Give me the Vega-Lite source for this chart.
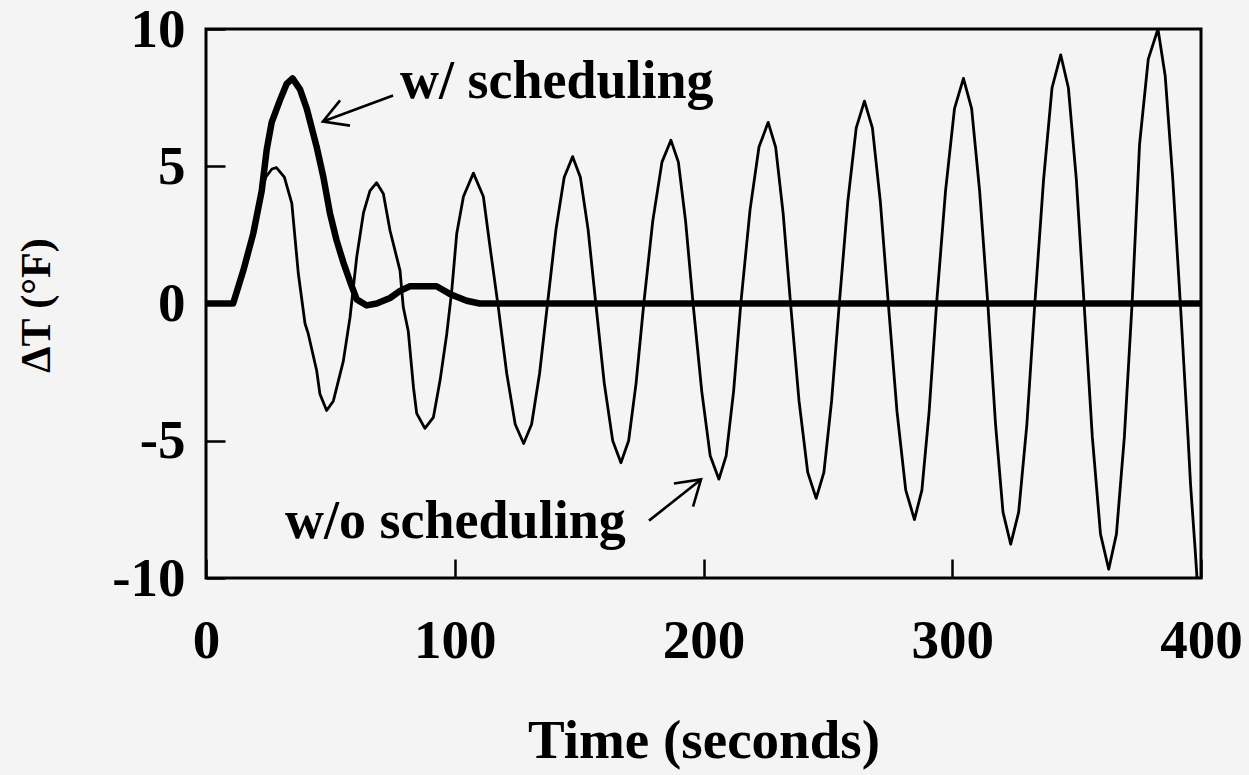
{
  "$schema": "https://vega.github.io/schema/vega-lite/v6.json",
  "width": 995,
  "height": 549,
  "autosize": "none",
  "padding": {"left": 206, "top": 29, "right": 48, "bottom": 197},
  "background": "#f4f4f4",
  "config": {
    "view": {"stroke": "black", "strokeWidth": 3},
    "font": "Liberation Serif"
  },
  "datasets": {
    "without": [
      {"t": 0, "v": 0}, {"t": 10.9, "v": 0}, {"t": 15, "v": 1.2}, {"t": 19, "v": 2.55}, {"t": 21.7, "v": 3.9},
      {"t": 24, "v": 4.6}, {"t": 26.5, "v": 4.9}, {"t": 28.3, "v": 4.95}, {"t": 31.5, "v": 4.6}, {"t": 34.5, "v": 3.65},
      {"t": 37.1, "v": 1.1}, {"t": 39.8, "v": -0.73}, {"t": 41.1, "v": -1.1}, {"t": 44.5, "v": -2.45}, {"t": 45.8, "v": -3.3},
      {"t": 48.5, "v": -3.9}, {"t": 51.2, "v": -3.55}, {"t": 55.2, "v": -2.1}, {"t": 57.9, "v": -0.5}, {"t": 60.6, "v": 1.7},
      {"t": 63.3, "v": 3.3}, {"t": 65.9, "v": 4.1}, {"t": 68.6, "v": 4.4}, {"t": 71.3, "v": 4.0}, {"t": 74, "v": 2.65},
      {"t": 78, "v": 1.2}, {"t": 79.3, "v": -0.13}, {"t": 81.3, "v": -1.0}, {"t": 83.4, "v": -3.05}, {"t": 84.7, "v": -4.0},
      {"t": 88, "v": -4.55}, {"t": 91.4, "v": -4.15}, {"t": 94.1, "v": -2.8}, {"t": 96.8, "v": -1.1}, {"t": 98.8, "v": 0.47},
      {"t": 100.8, "v": 2.55}, {"t": 103.5, "v": 3.9}, {"t": 107.5, "v": 4.75}, {"t": 111.5, "v": 3.9}, {"t": 114.2, "v": 2.05},
      {"t": 117.5, "v": -0.13}, {"t": 120.9, "v": -2.55}, {"t": 124.3, "v": -4.4}, {"t": 127.7, "v": -5.1}, {"t": 130.9, "v": -4.4},
      {"t": 134.1, "v": -2.55}, {"t": 137.3, "v": 0}, {"t": 140.7, "v": 2.7}, {"t": 144.0, "v": 4.6}, {"t": 147.4, "v": 5.35},
      {"t": 150.5, "v": 4.6}, {"t": 153.6, "v": 2.7}, {"t": 156.7, "v": 0}, {"t": 160.1, "v": -2.9}, {"t": 163.5, "v": -5.0},
      {"t": 166.8, "v": -5.8}, {"t": 169.9, "v": -5.0}, {"t": 172.9, "v": -2.9}, {"t": 176, "v": 0}, {"t": 179.6, "v": 3.0},
      {"t": 183.3, "v": 5.15}, {"t": 186.9, "v": 5.95}, {"t": 189.9, "v": 5.15}, {"t": 192.8, "v": 3.0}, {"t": 195.8, "v": 0},
      {"t": 199.3, "v": -3.2}, {"t": 202.7, "v": -5.55}, {"t": 206.2, "v": -6.4}, {"t": 209.1, "v": -5.55}, {"t": 212.1, "v": -3.2},
      {"t": 215, "v": 0}, {"t": 218.7, "v": 3.4}, {"t": 222.3, "v": 5.7}, {"t": 226, "v": 6.6}, {"t": 229, "v": 5.7},
      {"t": 232, "v": 3.3}, {"t": 235, "v": 0}, {"t": 238.4, "v": -3.55}, {"t": 241.9, "v": -6.15}, {"t": 245.3, "v": -7.1},
      {"t": 248.4, "v": -6.15}, {"t": 251.5, "v": -3.55}, {"t": 254.6, "v": 0}, {"t": 258, "v": 3.7}, {"t": 261.4, "v": 6.4},
      {"t": 264.7, "v": 7.37}, {"t": 267.9, "v": 6.4}, {"t": 271.1, "v": 3.7}, {"t": 274.3, "v": 0}, {"t": 277.8, "v": -3.95},
      {"t": 281.3, "v": -6.8}, {"t": 284.8, "v": -7.87}, {"t": 287.8, "v": -6.8}, {"t": 290.7, "v": -3.95}, {"t": 293.7, "v": 0},
      {"t": 297.3, "v": 4.1}, {"t": 300.9, "v": 7.1}, {"t": 304.5, "v": 8.2}, {"t": 307.8, "v": 7.1}, {"t": 311, "v": 4.1},
      {"t": 314.3, "v": 0}, {"t": 317.4, "v": -4.4}, {"t": 320.4, "v": -7.6}, {"t": 323.5, "v": -8.77}, {"t": 326.7, "v": -7.6},
      {"t": 330, "v": -4.4}, {"t": 333.2, "v": 0}, {"t": 336.7, "v": 4.5}, {"t": 340.1, "v": 7.85}, {"t": 343.6, "v": 9.06},
      {"t": 346.7, "v": 7.85}, {"t": 349.9, "v": 4.5}, {"t": 353, "v": 0}, {"t": 356.3, "v": -4.85}, {"t": 359.6, "v": -8.4},
      {"t": 362.9, "v": -9.68}, {"t": 366, "v": -8.4}, {"t": 369.2, "v": -4.85}, {"t": 372.3, "v": 0}, {"t": 375.3, "v": 5.8},
      {"t": 378.8, "v": 8.9}, {"t": 382.7, "v": 10}, {"t": 385.6, "v": 8.3}, {"t": 388.6, "v": 4.6}, {"t": 391.7, "v": 0},
      {"t": 394.8, "v": -4.9}, {"t": 395.8, "v": -6.6}, {"t": 397.6, "v": -8.9}, {"t": 398.4, "v": -10}
    ],
    "with": [
      {"t": 0, "v": 0}, {"t": 10.9, "v": 0}, {"t": 15, "v": 1.2}, {"t": 19, "v": 2.55}, {"t": 22.4, "v": 4.1},
      {"t": 24.4, "v": 5.6}, {"t": 26.4, "v": 6.6}, {"t": 29.7, "v": 7.4}, {"t": 32.4, "v": 8.0}, {"t": 34.8, "v": 8.2},
      {"t": 37.8, "v": 7.8}, {"t": 40.5, "v": 7.1}, {"t": 44.5, "v": 5.7}, {"t": 47.2, "v": 4.6}, {"t": 49.8, "v": 3.3},
      {"t": 52.5, "v": 2.3}, {"t": 55.2, "v": 1.5}, {"t": 57.9, "v": 0.8}, {"t": 60.6, "v": 0.15}, {"t": 64.6, "v": -0.07},
      {"t": 68.6, "v": 0}, {"t": 74, "v": 0.2}, {"t": 78, "v": 0.46}, {"t": 82, "v": 0.63}, {"t": 92.7, "v": 0.63},
      {"t": 98, "v": 0.35}, {"t": 104.8, "v": 0.1}, {"t": 110, "v": 0}, {"t": 400, "v": 0}
    ],
    "arrows": [
      {"seg": "a1", "o": 1, "t": 75.2, "v": 7.58}, {"seg": "a1", "o": 2, "t": 47.0, "v": 6.63},
      {"seg": "a1h", "o": 1, "t": 53.9, "v": 7.40}, {"seg": "a1h", "o": 2, "t": 47.0, "v": 6.63}, {"seg": "a1h", "o": 3, "t": 57.9, "v": 6.48},
      {"seg": "a2", "o": 1, "t": 178.1, "v": -7.91}, {"seg": "a2", "o": 2, "t": 199.0, "v": -6.41},
      {"seg": "a2h", "o": 1, "t": 188.1, "v": -6.56}, {"seg": "a2h", "o": 2, "t": 199.0, "v": -6.41}, {"seg": "a2h", "o": 3, "t": 195.8, "v": -7.40}
    ],
    "labels": [
      {"t": 78, "v": 7.5, "label": "w/ scheduling"},
      {"t": 31.8, "v": -8.56, "label": "w/o scheduling"}
    ]
  },
  "encoding": {
    "x": {
      "field": "t", "type": "quantitative",
      "scale": {"domain": [0, 400], "nice": false, "zero": false},
      "axis": {
        "values": [0, 100, 200, 300, 400],
        "tickSize": -19, "tickColor": "black", "tickWidth": 2.5,
        "domain": false, "grid": false,
        "labelFont": "Liberation Serif", "labelFontSize": 55, "labelFontWeight": "bold", "labelColor": "black",
        "labelPadding": 55, "labelFlush": false,
        "title": "Time (seconds)",
        "titleFont": "Liberation Serif", "titleFontSize": 55, "titleFontWeight": "bold", "titleColor": "black",
        "titleY": 162, "titleBaseline": "middle"
      }
    },
    "y": {
      "field": "v", "type": "quantitative",
      "scale": {"domain": [-10, 10], "nice": false, "zero": false},
      "axis": {
        "values": [-10, -5, 0, 5, 10],
        "tickSize": -19, "tickColor": "black", "tickWidth": 2.5,
        "domain": false, "grid": false,
        "labelExpr": "replace(datum.label, '\u2212', '-')",
        "labelFont": "Liberation Serif", "labelFontSize": 55, "labelFontWeight": "bold", "labelColor": "black",
        "labelPadding": 40, "labelFlush": false,
        "title": "ΔT (°F)",
        "titleFont": "Liberation Serif", "titleFontSize": 42, "titleFontWeight": "bold", "titleColor": "black",
        "titleX": -170, "titleY": 276, "titleAngle": -90, "titleAlign": "center", "titleBaseline": "middle"
      }
    }
  },
  "layer": [
    {
      "data": {"name": "without"},
      "mark": {"type": "line", "color": "black", "strokeWidth": 2.8, "clip": true, "strokeJoin": "round"}
    },
    {
      "data": {"name": "with"},
      "mark": {"type": "line", "color": "black", "strokeWidth": 6.5, "clip": true, "strokeJoin": "round"}
    },
    {
      "data": {"name": "arrows"},
      "mark": {"type": "line", "color": "black", "strokeWidth": 2.6},
      "encoding": {
        "detail": {"field": "seg"},
        "order": {"field": "o", "type": "quantitative"}
      }
    },
    {
      "data": {"name": "labels"},
      "mark": {"type": "text", "align": "left", "baseline": "alphabetic", "font": "Liberation Serif", "fontSize": 54, "fontWeight": "bold", "color": "black"},
      "encoding": {
        "text": {"field": "label"}
      }
    }
  ]
}
